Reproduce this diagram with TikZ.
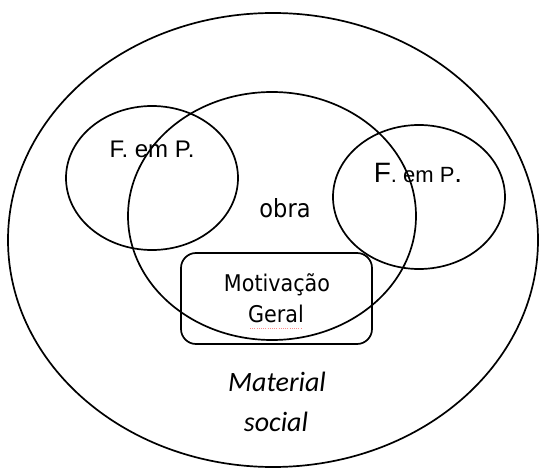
\documentclass[tikz,border=0pt]{standalone}
\usepackage{fontspec}
\setmainfont{Liberation Sans}
\newfontfamily\arialf{Liberation Sans}
\newfontfamily\tahf[FakeStretch=0.9]{DejaVu Sans}
\newfontfamily\calif{Carlito}
\begin{document}
\begin{tikzpicture}[x=1pt,y=-1pt,
  ring/.style={draw=black,line width=1.7pt},
  lbl/.style={inner sep=0pt,anchor=base,text=black}]
\useasboundingbox (0,0) rectangle (539,468);

% outer field, the work and the two side sets
\draw[ring] (273,240) ellipse [x radius=265,y radius=227];
\draw[ring] (272,216) ellipse [x radius=144,y radius=124];
\draw[ring] (152,178) ellipse [x radius=86,y radius=72];
\draw[ring] (419,197) ellipse [x radius=86,y radius=72];

% central box
\node[ring,rounded corners=15pt,minimum width=191pt,minimum height=91pt,inner sep=0pt] (motbox) at (276.5,298.5) {};

% labels
\node[lbl] (fpl) at (152,158) {\arialf\fontsize{24}{26}\selectfont F. em P.};
\node[lbl] (fpr) at (418,183) {\arialf\fontsize{28}{30}\selectfont F\fontsize{22}{24}\selectfont . em P\fontsize{28}{30}\selectfont .};
\node[lbl] (obra) at (285,218) {\tahf\fontsize{25}{27}\selectfont obra};
\node[lbl] (motiv) at (277,292) {\tahf\fontsize{23}{25}\selectfont Motivação};
\node[lbl] (geral) at (276,323) {\tahf\fontsize{23}{25}\selectfont Geral};
\node[lbl] (mat) at (277,391) {\calif\itshape\fontsize{28}{30}\selectfont Material};
\node[lbl] (soc) at (276,431) {\calif\itshape\fontsize{28}{30}\selectfont social};

% dotted underline beneath "Geral"
\draw[red!45,line width=0.8pt,dash pattern=on 1pt off 1.2pt] (250,328.5) -- (302,328.5);
\end{tikzpicture}
\end{document}
